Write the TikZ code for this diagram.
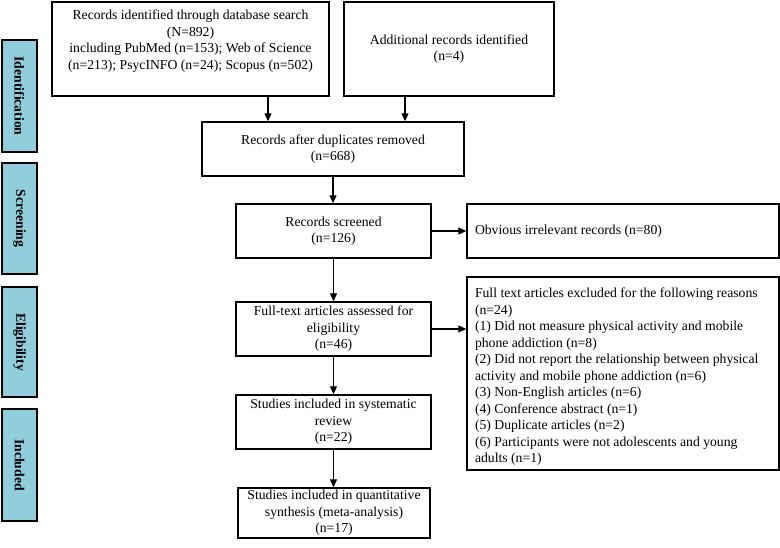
\documentclass[tikz,border=0pt]{standalone}
\usepackage{fontspec}
\setmainfont{Liberation Serif}
\usetikzlibrary{arrows.meta}
\definecolor{sideblue}{RGB}{146,205,220}
\newcommand\boxfont{\fontsize{13.7}{16.5}\selectfont}
\begin{document}
\begin{tikzpicture}[x=1pt,y=-1pt,
  box/.style={draw, line width=1.4pt, inner sep=0pt, align=center, font=\boxfont},
  side/.style={draw, line width=1.4pt, fill=sideblue, inner sep=0pt, rotate=-90,
    minimum height=35pt, font=\boxfont\bfseries},
  arr/.style={line width=1.1pt, -{Triangle[length=8pt,width=7pt]}}]
\useasboundingbox (0,0) rectangle (780,547);
% side labels
\node[side, minimum width=112pt] (s1) at (19.5,96) {Identification};
\node[side, minimum width=111pt] (s2) at (19.5,218.5) {Screening};
\node[side, minimum width=110pt] (s3) at (19.5,342) {Eligibility};
\node[side, minimum width=112pt] (s4) at (19.5,465) {Included};
% boxes
\node[box, minimum width=277pt, minimum height=94pt] (srch) at (190.5,49)
  {\parbox[c][90pt][t]{267pt}{\centering\vspace*{6pt}Records identified through database search\\(N=892)\\including PubMed (n=153); Web of Science\\(n=213); PsycINFO (n=24); Scopus (n=502)}};
\node[box, minimum width=210pt, minimum height=94pt] (addl) at (449,49)
  {Additional records identified\\(n=4)};
\node[box, minimum width=262pt, minimum height=54pt] (dup) at (333,149)
  {Records after duplicates removed\\(n=668)};
\node[box, minimum width=195pt, minimum height=54pt] (scr) at (333.5,231)
  {Records screened\\(n=126)};
\node[box, minimum width=312pt, minimum height=54pt, align=left] (obv) at (623,231)
  {\parbox{296pt}{Obvious irrelevant records (n=80)}};
\node[box, minimum width=195pt, minimum height=54pt] (ft) at (333.5,329)
  {Full-text articles assessed for\\eligibility\\(n=46)};
\node[box, minimum width=312pt, minimum height=193pt] (excl) at (623,373.5)
  {\parbox[c][189pt][t]{296pt}{\raggedright\vspace*{9pt}Full text articles excluded for the following reasons\\
  (n=24)\\
  (1) Did not measure physical activity and mobile\\
  phone addiction (n=8)\\
  (2) Did not report the relationship between physical\\
  activity and mobile phone addiction (n=6)\\
  (3) Non-English articles (n=6)\\
  (4) Conference abstract (n=1)\\
  (5) Duplicate articles (n=2)\\
  (6) Participants were not adolescents and young\\
  adults (n=1)}};
\node[box, minimum width=195pt, minimum height=54pt] (sys) at (333.5,422)
  {Studies included in systematic\\review\\(n=22)};
\node[box, minimum width=192pt, minimum height=50pt] (qnt) at (334,513)
  {Studies included in quantitative\\synthesis (meta-analysis)\\(n=17)};
% arrows
\draw[arr] (268,0 |- srch.south) -- (268,0 |- dup.north);
\draw[arr] (405,0 |- addl.south) -- (405,0 |- dup.north);
\draw[arr] (dup.south) -- (dup.south |- scr.north);
\draw[arr] (scr.south) -- (scr.south |- ft.north);
\draw[arr] (ft.south) -- (ft.south |- sys.north);
\draw[arr] (sys.south) -- (sys.south |- qnt.north);
\draw[arr] (scr.east) -- (obv.west);
\draw[arr] (ft.east) -- (ft.east -| excl.west);
\end{tikzpicture}
\end{document}
